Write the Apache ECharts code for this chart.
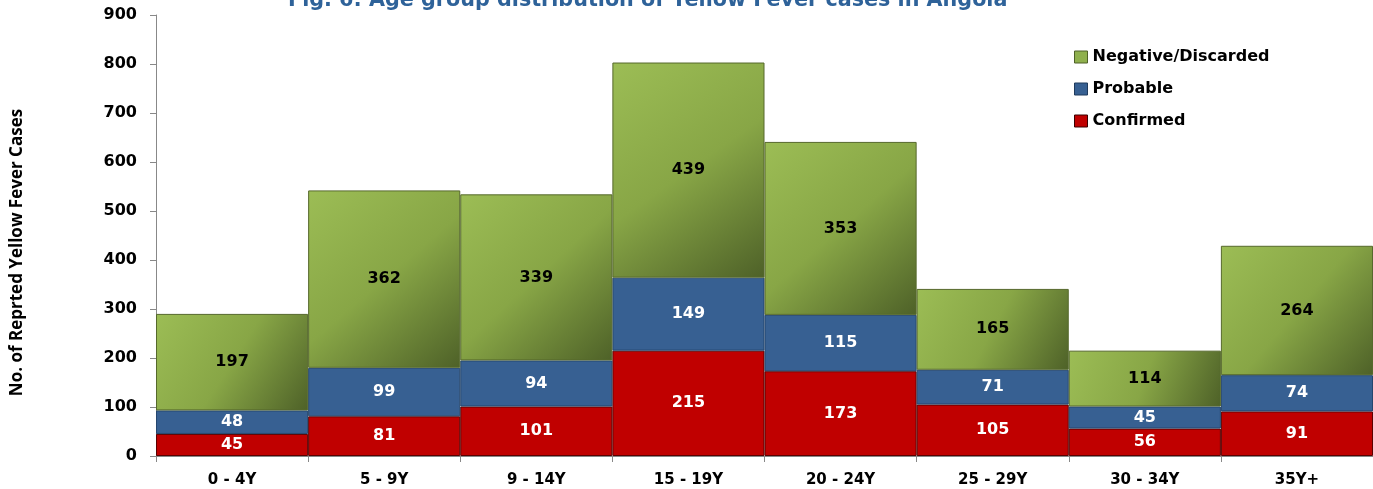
<!DOCTYPE html>
<html lang="en">
<head>
    <meta charset="UTF-8">
    <title>Age group distribution of Yellow Fever cases in Angola</title>
    <script src="https://cdn.jsdelivr.net/npm/echarts@6/dist/echarts.min.js"></script>
    <style>
        html, body { margin: 0; padding: 0; background: #fff; }
        #fig1 { width: 1373px; height: 489px; }
    </style>
</head>
<body>
    <div id="fig1"></div>
    <script>
        // 年龄组
        let ageGroups = ['0 - 4Y', '5 - 9Y', '9 - 14Y', '15 - 19Y', '20 - 24Y', '25 - 29Y', '30 - 34Y', '35Y+'];
        let confirmed = [45, 81, 101, 215, 173, 105, 56, 91];
        let probable = [48, 99, 94, 149, 115, 71, 45, 74];
        let negative = [197, 362, 339, 439, 353, 165, 114, 264];
        let yTicks = [0, 100, 200, 300, 400, 500, 600, 700, 800, 900];

        let font = 'DejaVu Sans';

        function makeSeries (name, data, color, border, labelColor) {
            return {
                name: name,
                type: 'bar',
                stack: 'total',
                barCategoryGap: 0,
                barGap: 0,
                data: data,
                itemStyle: {
                    color: color,
                    borderColor: border,
                    borderWidth: 1
                },
                label: {
                    show: true,
                    position: 'inside',
                    color: labelColor,
                    fontFamily: font,
                    fontWeight: 'bold',
                    fontSize: 16
                }
            };
        }

        let greenFill = new echarts.graphic.LinearGradient(0, 0, 1, 1, [
            {offset: 0, color: '#9cbd55'},
            {offset: 0.5, color: '#88a646'},
            {offset: 1, color: '#4e6128'}
        ]);

        let fig1 = echarts.init(document.getElementById('fig1'), null, {renderer: 'canvas'});
        fig1.setOption({
            animation: false,
            title: {
                text: 'Fig. 6: Age group distribution of Yellow Fever cases in Angola',
                left: 283,
                top: -15,
                textStyle: {
                    color: '#2e6299',
                    fontFamily: font,
                    fontWeight: 'bold',
                    fontSize: 20.7
                }
            },
            legend: {
                orient: 'vertical',
                left: 1069,
                top: 44,
                itemWidth: 13,
                itemHeight: 12,
                itemGap: 16,
                icon: 'rect',
                textStyle: {
                    fontFamily: font,
                    fontWeight: 'bold',
                    fontSize: 16,
                    color: '#000'
                },
                data: [
                    {name: 'Negative/Discarded', itemStyle: {color: '#8fb04d', borderColor: '#4e6128', borderWidth: 1}},
                    {name: 'Probable', itemStyle: {color: '#376092', borderColor: '#1f3a5c', borderWidth: 1}},
                    {name: 'Confirmed', itemStyle: {color: '#c00000', borderColor: '#3a0000', borderWidth: 1}}
                ]
            },
            grid: {
                left: 156,
                right: 0,
                top: 15,
                bottom: 33,
                containLabel: false,
                outerBoundsMode: 'none'
            },
            xAxis: {
                type: 'category',
                data: ageGroups,
                axisLine: { lineStyle: { color: '#888', width: 1 } },
                axisTick: { show: true, length: 6, lineStyle: { color: '#888' } },
                axisLabel: {
                    color: '#000',
                    fontFamily: font,
                    fontWeight: 'bold',
                    fontSize: 15,
                    margin: 17
                }
            },
            yAxis: {
                type: 'value',
                min: yTicks[0],
                max: yTicks[yTicks.length - 1],
                interval: 100,
                name: 'No. of Reprted Yellow Fever Cases',
                nameLocation: 'center',
                nameGap: 130,
                nameTextStyle: {
                    color: '#000',
                    fontFamily: 'Open Sans',
                    fontWeight: 'bold',
                    fontSize: 17,
                    padding: [0, 34, 0, 0]
                },
                splitLine: { show: false },
                axisLine: { show: true, lineStyle: { color: '#888', width: 1 } },
                axisTick: { show: true, length: 6, lineStyle: { color: '#888' } },
                axisLabel: {
                    color: '#000',
                    fontFamily: font,
                    fontWeight: 'bold',
                    fontSize: 16,
                    margin: 19
                }
            },
            series: [
                makeSeries('Confirmed', confirmed, '#c00000', '#5a0000', '#fff'),
                makeSeries('Probable', probable, '#376092', '#24466e', '#fff'),
                makeSeries('Negative/Discarded', negative, greenFill, '#56692c', '#000')
            ]
        });
    </script>
</body>
</html>
